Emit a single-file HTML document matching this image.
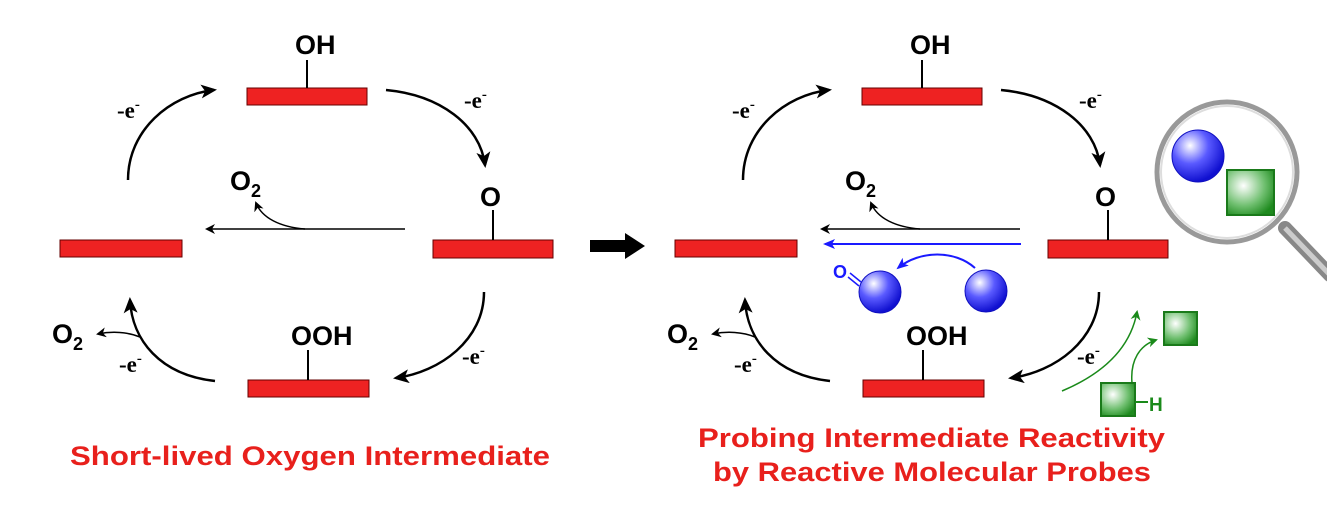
<!DOCTYPE html>
<html><head><style>body{margin:0;background:#fff}svg{display:block}text{font-family:"Liberation Sans",Arial,sans-serif;font-weight:bold}.e{font-family:"Liberation Serif","Times New Roman",serif}</style></head>
<body>
<svg width="1327" height="506" viewBox="0 0 1327 506" xmlns="http://www.w3.org/2000/svg">
<defs>
<marker id="ak" markerWidth="10" markerHeight="10" refX="8" refY="5" orient="auto" markerUnits="userSpaceOnUse"><path d="M0,0 L10,5 L0,10 L3,5z" fill="#000"/></marker>
<marker id="ab" markerWidth="12" markerHeight="10" refX="10" refY="5" orient="auto" markerUnits="userSpaceOnUse"><path d="M0,0 L12,5 L0,10 L3,5z" fill="#1a1aff"/></marker>
<marker id="ag" markerWidth="10" markerHeight="10" refX="8" refY="5" orient="auto" markerUnits="userSpaceOnUse"><path d="M0,0 L10,5 L0,10 L3,5z" fill="#1a8a1a"/></marker>
<marker id="akb" markerWidth="16" markerHeight="14" refX="13" refY="7" orient="auto" markerUnits="userSpaceOnUse"><path d="M0,0 L16,7 L0,14 L4,7z" fill="#000"/></marker>
<radialGradient id="bg" cx="0.35" cy="0.3" r="0.7"><stop offset="0" stop-color="#fff"/><stop offset="0.5" stop-color="#5a5aff"/><stop offset="1" stop-color="#1010d0"/></radialGradient>
<radialGradient id="gg" cx="0.35" cy="0.35" r="0.75"><stop offset="0" stop-color="#fff"/><stop offset="0.6" stop-color="#6fbf6f"/><stop offset="1" stop-color="#1e8a1e"/></radialGradient>
</defs>
<g id="cyc" stroke-width="2.5" fill="none">
<rect x="247" y="88" width="120" height="17" fill="#ee2222" stroke="#600" stroke-width="1"/>
<rect x="433" y="240" width="120" height="18" fill="#ee2222" stroke="#600" stroke-width="1"/>
<rect x="60" y="240" width="122" height="17" fill="#ee2222" stroke="#600" stroke-width="1"/>
<rect x="248" y="380" width="121" height="17" fill="#ee2222" stroke="#600" stroke-width="1"/>
<line x1="307" y1="60" x2="307" y2="88" stroke="#000" stroke-width="2"/>
<line x1="493" y1="210" x2="493" y2="240" stroke="#000" stroke-width="2"/>
<line x1="308" y1="350" x2="308" y2="380" stroke="#000" stroke-width="2"/>
<text x="295" y="54" font-size="27" fill="#000" stroke="none">OH</text>
<text x="480" y="206" font-size="27" fill="#000" stroke="none">O</text>
<text x="291" y="345" font-size="27" fill="#000" stroke="none">OOH</text>
<path d="M128,180 C128,130 170,95 214,90" stroke="#000" marker-end="url(#akb)"/>
<path d="M386,90 C440,95 480,125 485,165" stroke="#000" marker-end="url(#akb)"/>
<path d="M484,292 C484,340 440,372 396,378" stroke="#000" marker-end="url(#akb)"/>
<path d="M215,381 C160,375 132,340 130,300" stroke="#000" marker-end="url(#akb)"/>
<line x1="405" y1="229" x2="207" y2="229" stroke="#000" stroke-width="1.5" marker-end="url(#ak)"/>
<path d="M305,229 C280,227 262,218 256,203" stroke="#000" stroke-width="1.5" marker-end="url(#ak)"/>
<path d="M140,337 C128,332 112,331 98,334" stroke="#000" stroke-width="1.5" marker-end="url(#ak)"/>
<text class="e" x="117" y="118" font-size="23" fill="#000" stroke="none">-e<tspan dy="-9" font-size="15">-</tspan></text>
<text class="e" x="464" y="108" font-size="23" fill="#000" stroke="none">-e<tspan dy="-9" font-size="15">-</tspan></text>
<text class="e" x="462" y="364" font-size="23" fill="#000" stroke="none">-e<tspan dy="-9" font-size="15">-</tspan></text>
<text class="e" x="119" y="372" font-size="23" fill="#000" stroke="none">-e<tspan dy="-9" font-size="15">-</tspan></text>
<text x="230" y="190" font-size="27" fill="#000" stroke="none">O<tspan dy="7" font-size="18">2</tspan></text>
<text x="52" y="343" font-size="27" fill="#000" stroke="none">O<tspan dy="7" font-size="18">2</tspan></text>
</g>
<use href="#cyc" transform="translate(615,0)"/>
<!-- big arrow -->
<path d="M590,240 L625,240 L625,233 L645,246 L625,259 L625,252 L590,252z" fill="#000"/>
<!-- blue -->
<line x1="1021" y1="244" x2="825" y2="244" stroke="#1a1aff" stroke-width="2" marker-end="url(#ab)"/>
<path d="M975,268 C955,250 920,250 898,268" stroke="#1a1aff" stroke-width="2" fill="none" marker-end="url(#ab)"/>
<circle cx="880" cy="292" r="21" fill="url(#bg)" stroke="#1010c0" stroke-width="1"/>
<circle cx="986" cy="291" r="21" fill="url(#bg)" stroke="#1010c0" stroke-width="1"/>
<text x="833" y="278" font-size="18" fill="#1a1aff">O</text>
<line x1="850" y1="273" x2="861" y2="282" stroke="#1a1aff" stroke-width="1.5"/>
<line x1="848" y1="277" x2="859" y2="286" stroke="#1a1aff" stroke-width="1.5"/>
<!-- green -->
<path d="M1062,391 C1100,375 1130,350 1137,312" stroke="#1a8a1a" stroke-width="1.5" fill="none" marker-end="url(#ag)"/>
<path d="M1132,383 C1130,360 1140,345 1156,340" stroke="#1a8a1a" stroke-width="1.5" fill="none" marker-end="url(#ag)"/>
<rect x="1164" y="312" width="33" height="33" fill="url(#gg)" stroke="#1a7a1a" stroke-width="2"/>
<rect x="1101" y="383" width="34" height="33" fill="url(#gg)" stroke="#1a7a1a" stroke-width="2"/>
<line x1="1135" y1="402" x2="1148" y2="402" stroke="#1a8a1a" stroke-width="2"/>
<text x="1149" y="411" font-size="19" fill="#1a8a1a">H</text>
<!-- magnifier -->
<line x1="1285" y1="228" x2="1330" y2="275" stroke="#888" stroke-width="14" stroke-linecap="round"/>
<line x1="1285" y1="228" x2="1330" y2="275" stroke="#ccc" stroke-width="5"/>
<circle cx="1227" cy="172" r="70" fill="#fff" stroke="#999" stroke-width="5"/>
<circle cx="1227" cy="172" r="66" fill="none" stroke="#ddd" stroke-width="2"/>
<circle cx="1198" cy="156" r="26" fill="url(#bg)" stroke="#1010c0" stroke-width="1"/>
<rect x="1227" y="170" width="47" height="45" fill="url(#gg)" stroke="#1a7a1a" stroke-width="2"/>
<!-- captions -->
<text x="70" y="465" font-size="27" fill="#e8201c" textLength="480" lengthAdjust="spacingAndGlyphs">Short-lived Oxygen Intermediate</text>
<text x="698" y="447" font-size="27" fill="#e8201c" textLength="467" lengthAdjust="spacingAndGlyphs">Probing Intermediate Reactivity</text>
<text x="713" y="481" font-size="27" fill="#e8201c" textLength="438" lengthAdjust="spacingAndGlyphs">by Reactive Molecular Probes</text>
</svg>
</body></html>
